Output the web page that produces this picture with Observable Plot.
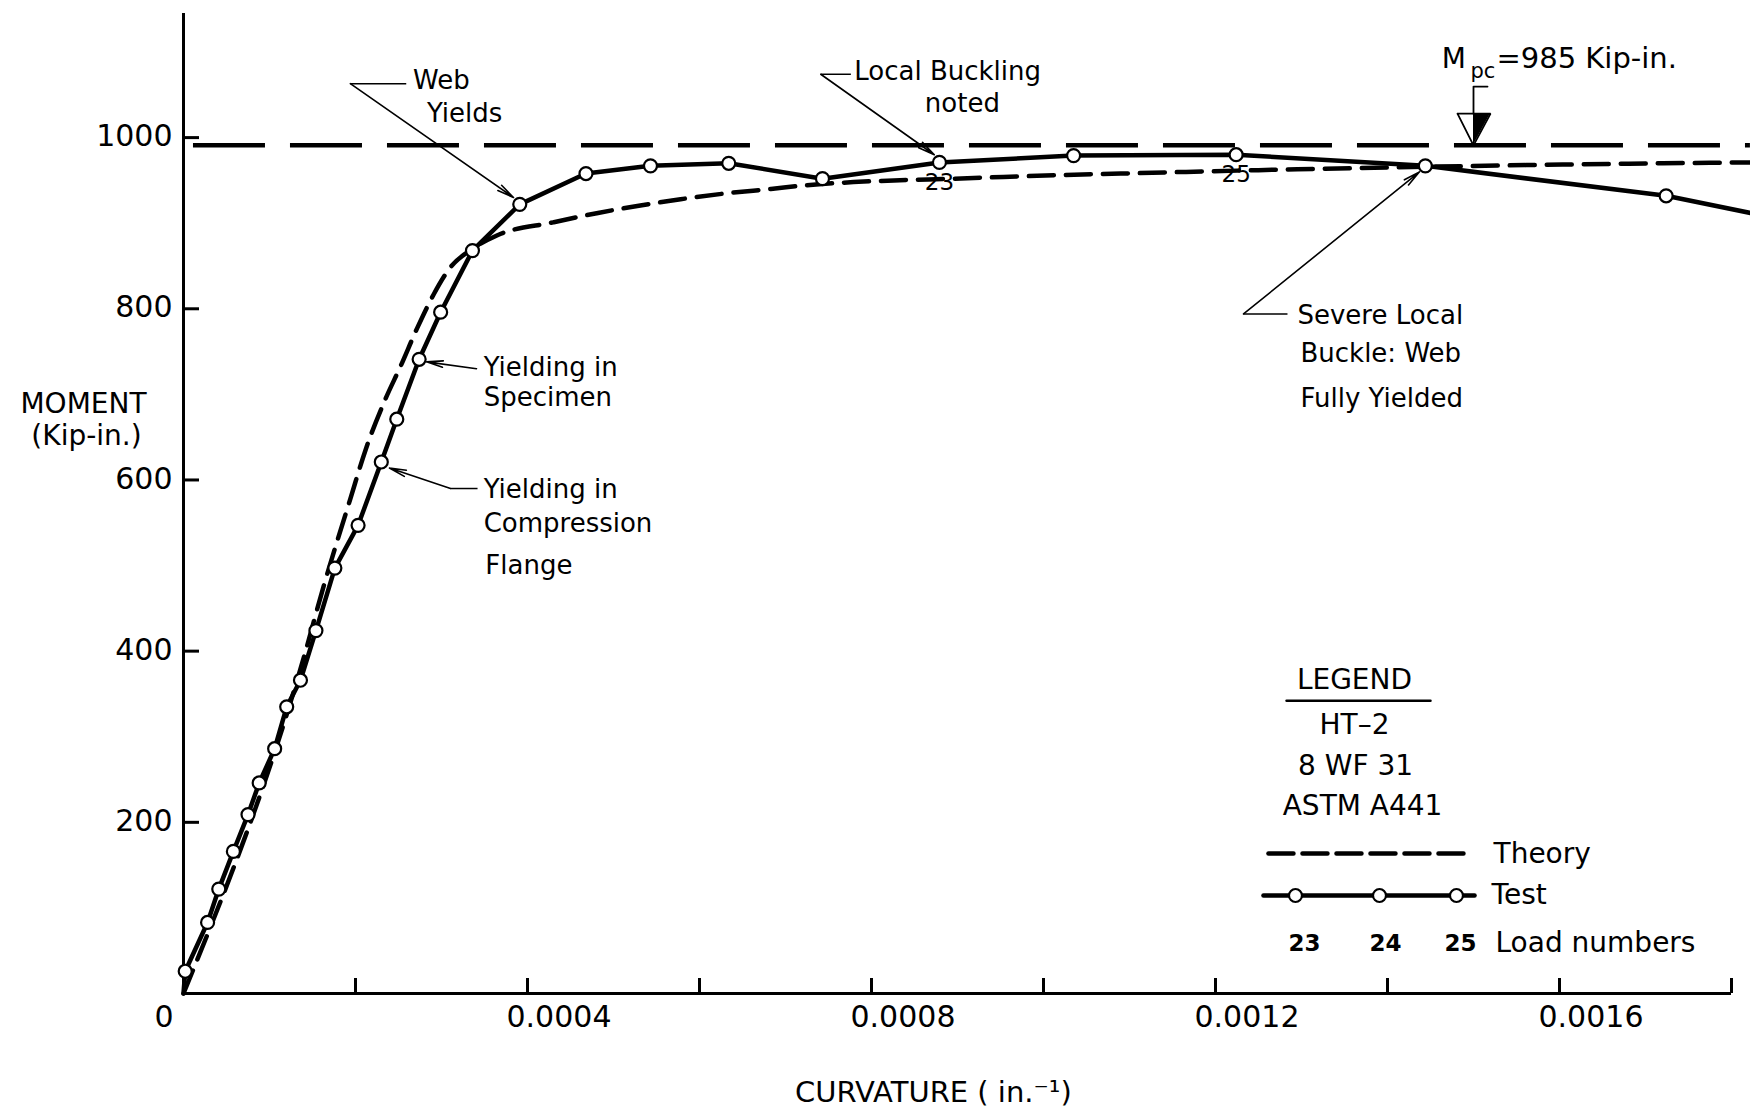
<!DOCTYPE html>
<html>
<head>
<meta charset="utf-8">
<script src="https://cdn.jsdelivr.net/npm/d3@7"></script>
<script src="https://cdn.jsdelivr.net/npm/@observablehq/plot@0.6"></script>
<style>
  html, body { margin: 0; padding: 0; background: white; }
  #chart { width: 1750px; height: 1110px; }
</style>
</head>
<body>
<div id="chart"></div>
<script>
// ---------- DATA ----------
// Test HT-2 : curvature (in^-1) and moment (kip-in) at each load point
const testCurvature = [0.000002, 0.000028, 0.000041, 0.000058, 0.000075, 0.000088, 0.000106, 0.000120, 0.000136,
  0.000154, 0.000176, 0.000203, 0.000230, 0.000248, 0.000274, 0.000299, 0.000336, 0.000391, 0.000468, 0.000543,
  0.000634, 0.000743, 0.000879, 0.001035, 0.001224, 0.001444, 0.001724];
const testMoment = [26, 83, 122, 166, 209, 246, 286, 335, 366,
  424, 497, 547, 621, 671, 741, 796, 868, 922, 958, 967,
  970, 952, 971, 979, 980, 967, 932];
// line continues from origin and past the last point
const testStart = {c: 0, m: 0};
const testTail = {c: 0.001822, m: 912};

// Theory curve
const theoryCurvature = [0, 0.000140, 0.000163, 0.000194, 0.000212, 0.000235, 0.000252, 0.000272, 0.000291,
  0.000310, 0.000336, 0.000365, 0.000430, 0.000482, 0.000533, 0.000578, 0.000632, 0.000683, 0.000721,
  0.000779, 0.000826, 0.000895, 0.000953, 0.001012, 0.001090, 0.001250, 0.001450, 0.001720, 0.001822];
const theoryMoment = [0, 393, 476, 578, 636, 695, 732, 778, 817,
  848, 870, 886, 901, 912, 921, 928, 935, 940, 944,
  948, 950, 952, 954, 956, 958, 962, 966, 970, 971];

// M_pc reference line
const mpcMoment = 991;
const mpcRange = [0.0000116, 0.001822];

// Load numbers marked on the test curve (index into test arrays)
const loadLabels = ["23", "25"];
const loadIndex = [22, 24];

// Axes
const xTicks = [0.0002, 0.0004, 0.0006, 0.0008, 0.0010, 0.0012, 0.0014, 0.0016, 0.0018];
const xLabelValues = [0.0004, 0.0008, 0.0012, 0.0016];
const xLabelTexts = ["0.0004", "0.0008", "0.0012", "0.0016"];
const yTicks = [200, 400, 600, 800, 1000];
const yLabelTexts = ["200", "400", "600", "800", "1000"];

// ---------- build tables ----------
const test = testCurvature.map((c, i) => ({c, m: testMoment[i]}));
const testLine = [testStart, ...test, testTail];
const theory = theoryCurvature.map((c, i) => ({c, m: theoryMoment[i]}));
const loads = loadLabels.map((t, i) => ({t, c: testCurvature[loadIndex[i]], m: testMoment[loadIndex[i]]}));

// annotation texts (position in data units: curvature, moment)
const annFont = 26;
const annTexts = [
  {t: "Web", c: 0.000267, m: 1066},
  {t: "Yields", c: 0.000283, m: 1028},
  {t: "Local Buckling", c: 0.000780, m: 1077},
  {t: "noted", c: 0.000862, m: 1040},
  {t: "Yielding in", c: 0.000349, m: 731},
  {t: "Specimen", c: 0.000349, m: 696},
  {t: "Yielding in", c: 0.000349, m: 589},
  {t: "Compression", c: 0.000349, m: 549},
  {t: "Flange", c: 0.000351, m: 500},
  {t: "Severe Local", c: 0.0012953, m: 792},
  {t: "Buckle: Web", c: 0.0012988, m: 748},
  {t: "Fully Yielded", c: 0.0012988, m: 695}
];
const leaderLinks = [
  {c1: 0.000194, m1: 1063, c2: 0.000259, m2: 1063},
  {c1: 0.000741, m1: 1074, c2: 0.000776, m2: 1074},
  {c1: 0.0012326, m1: 794, c2: 0.0012837, m2: 794},
  {c1: 0.0003419, m1: 590, c2: 0.0003105, m2: 590}
];
const leaderArrows = [
  {c1: 0.000194, m1: 1063, c2: 0.0003837, m2: 930},
  {c1: 0.000741, m1: 1074, c2: 0.000873, m2: 980},
  {c1: 0.0012326, m1: 794, c2: 0.0014372, m2: 960},
  {c1: 0.0003407, m1: 730, c2: 0.0002826, m2: 738},
  {c1: 0.0003105, m1: 590, c2: 0.0002395, m2: 614}
];

// M_pc marker
const mpcStem = [{c: 0.0015163, m: 1059.6}, {c: 0.0015, m: 1059.6}, {c: 0.0015, m: 1028}];
const mpcTriangle = [{c: 0.0014814, m: 1028}, {c: 0.0015198, m: 1028}, {c: 0.0015, m: mpcMoment}, {c: 0.0014814, m: 1028}];
const mpcFillX = [0.0015, 0.0015198];

// Legend (positions in data units)
const legendTitle = {t: "LEGEND", c: 0.0013616, m: 366};
const legendLines = [
  {t: "HT–2", c: 0.0013616, m: 314},
  {t: "8 WF 31", c: 0.0013628, m: 266},
  {t: "ASTM A441", c: 0.001371, m: 218.5}
];
const legendUnderline = [{c: 0.0012826, m: 342}, {c: 0.00145, m: 342}];
const legendTheory = [{c: 0.0012616, m: 163.5}, {c: 0.001493, m: 163.5}];
const legendTest = [{c: 0.0012558, m: 114.5}, {c: 0.0015012, m: 114.5}];
const legendTestDots = [0.001293, 0.0013907, 0.0014802];
const legendLoadNums = ["23", "24", "25"];
const legendLoadC = [0.0013035, 0.0013977, 0.0014849];
const legendRowLabels = [
  {t: "Theory", c: 0.0015233, m: 163.5},
  {t: "Test", c: 0.001521, m: 114.5},
  {t: "Load numbers", c: 0.0015256, m: 58.4}
];

const font = "'DejaVu Sans', sans-serif";

const chart = Plot.plot({
  width: 1750,
  height: 1110,
  marginLeft: 183,
  marginRight: 19,
  marginTop: 13,
  marginBottom: 117,
  x: {domain: [0, 0.0018], axis: null},
  y: {domain: [0, 1145], axis: null},
  style: {background: "white", color: "black", fontFamily: font, overflow: "visible"},
  marks: [
    // axes
    Plot.ruleX([0], {y1: 0, y2: 1145, stroke: "black", strokeWidth: 3}),
    Plot.ruleY([0], {x1: 0, x2: 0.0018, stroke: "black", strokeWidth: 3}),
    Plot.ruleX(xTicks, {x: d => d, y1: 0, y2: 17.5, stroke: "black", strokeWidth: 3}),
    Plot.ruleY(yTicks, {y: d => d, x1: 0, x2: 0.0000186, stroke: "black", strokeWidth: 3}),
    Plot.text(yTicks, {x: 0, y: d => d, text: (d, i) => yLabelTexts[i], textAnchor: "end", dx: -11, dy: -1, fontSize: 30, fill: "black"}),
    Plot.text(xLabelValues, {x: d => d, y: 0, text: (d, i) => xLabelTexts[i], textAnchor: "start", dx: -21, dy: 24, fontSize: 30, fill: "black"}),
    Plot.text(["0"], {x: 0, y: 0, text: d => d, textAnchor: "end", dx: -10, dy: 24, fontSize: 30, fill: "black"}),
    Plot.text(["MOMENT"], {x: -0.0001163, y: 689, text: d => d, fontSize: 28, fill: "black"}),
    Plot.text(["(Kip-in.)"], {x: -0.0001128, y: 651, text: d => d, fontSize: 28, fill: "black"}),
    Plot.text(["CURVATURE ( in.⁻¹)"], {x: 0.000872, y: -116, text: d => d, fontSize: 29, fill: "black"}),

    // M_pc line
    Plot.ruleY([mpcMoment], {x1: mpcRange[0], x2: mpcRange[1], stroke: "black", strokeWidth: 4.5, strokeDasharray: "72,25"}),

    // theory
    Plot.line(theory, {x: "c", y: "m", stroke: "black", strokeWidth: 4.5, strokeDasharray: "25,12", curve: "monotone-x"}),

    // test
    Plot.line(testLine, {x: "c", y: "m", stroke: "black", strokeWidth: 4.5, curve: "linear"}),
    Plot.dot(test, {x: "c", y: "m", r: 6.5, fill: "white", stroke: "black", strokeWidth: 2.2}),
    Plot.text(loads, {x: "c", y: "m", text: "t", dy: 20, fontSize: 23, fill: "black"}),

    // annotations
    Plot.link(leaderLinks, {x1: "c1", y1: "m1", x2: "c2", y2: "m2", stroke: "black", strokeWidth: 1.5}),
    Plot.arrow(leaderArrows, {x1: "c1", y1: "m1", x2: "c2", y2: "m2", stroke: "black", strokeWidth: 1.6, headLength: 16, headAngle: 22}),
    Plot.text(annTexts, {x: "c", y: "m", text: "t", textAnchor: "start", fontSize: annFont, fill: "black"}),

    // M_pc label and marker
    Plot.text(["M"], {x: 0.001463, y: 1092, text: d => d, textAnchor: "start", fontSize: 28, fill: "black"}),
    Plot.text(["pc"], {x: 0.0014965, y: 1077, text: d => d, textAnchor: "start", fontSize: 21, fill: "black"}),
    Plot.text(["=985 Kip-in."], {x: 0.0015267, y: 1092, text: d => d, textAnchor: "start", fontSize: 29, fill: "black"}),
    Plot.line(mpcStem, {x: "c", y: "m", stroke: "black", strokeWidth: 1.8}),
    Plot.areaY(mpcFillX, {x: d => d, y1: (d, i) => (i === 0 ? mpcMoment : 1028), y2: 1028, fill: "black", curve: "linear"}),
    Plot.line(mpcTriangle, {x: "c", y: "m", stroke: "black", strokeWidth: 1.8, strokeLinejoin: "miter"}),

    // legend
    Plot.text([legendTitle], {x: "c", y: "m", text: "t", fontSize: 28, fill: "black", letterSpacing: 2}),
    Plot.line(legendUnderline, {x: "c", y: "m", stroke: "black", strokeWidth: 2.5}),
    Plot.text(legendLines, {x: "c", y: "m", text: "t", fontSize: 28, fill: "black", letterSpacing: 1}),
    Plot.line(legendTheory, {x: "c", y: "m", stroke: "black", strokeWidth: 4.5, strokeDasharray: "25,9"}),
    Plot.line(legendTest, {x: "c", y: "m", stroke: "black", strokeWidth: 4.5}),
    Plot.dot(legendTestDots, {x: d => d, y: 114.5, r: 6.5, fill: "white", stroke: "black", strokeWidth: 2.2}),
    Plot.text(legendLoadNums, {x: (d, i) => legendLoadC[i], y: 58.4, text: d => d, fontSize: 23, fontWeight: "bold", fill: "black"}),
    Plot.text(legendRowLabels, {x: "c", y: "m", text: "t", textAnchor: "start", fontSize: 28, fill: "black"})
  ]
});
document.getElementById("chart").appendChild(chart);
</script>
</body>
</html>
